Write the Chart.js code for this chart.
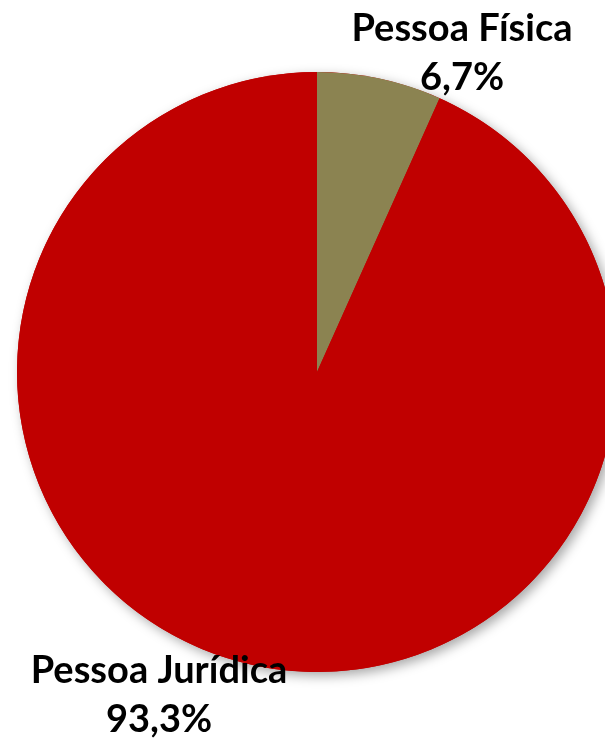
<!DOCTYPE html>
<html>
<head>
<meta charset="utf-8">
<script src="https://cdn.jsdelivr.net/npm/chart.js@4"></script>
<style>
  html, body { margin: 0; padding: 0; background: #fff; overflow: hidden; }
</style>
</head>
<body>
<canvas id="pie" width="640" height="741"></canvas>
<script>
const categories = ['Pessoa Física', 'Pessoa Jurídica'];
const shares = [6.7, 93.3];
const sliceColors = ['#8B8351', '#C00000'];

// where each label block is centred (x, y of first line)
const labelSpots = [{x: 462, y: 29}, {x: 159, y: 671}];

const fmt = v => v.toFixed(1).replace('.', ',') + '%';

const pieShadow = {
    id: 'pieShadow',
    beforeDatasetsDraw(chart) {
        const arc = chart.getDatasetMeta(0).data[0];
        const ctx = chart.ctx;
        ctx.save();
        ctx.shadowColor = 'rgba(0,0,0,0.35)';
        ctx.shadowBlur = 12;
        ctx.shadowOffsetX = 4;
        ctx.shadowOffsetY = 4;
        ctx.fillStyle = '#C00000';
        ctx.beginPath();
        ctx.arc(arc.x, arc.y, arc.outerRadius, 0, Math.PI * 2);
        ctx.fill();
        ctx.restore();
    }
};

const sliceLabels = {
    id: 'sliceLabels',
    afterDatasetsDraw(chart) {
        const ctx = chart.ctx;
        ctx.save();
        ctx.fillStyle = '#000';
        ctx.font = 'bold 38px Lato, "Open Sans", sans-serif';
        ctx.textAlign = 'center';
        ctx.textBaseline = 'middle';
        categories.forEach((c, i) => {
            const p = labelSpots[i];
            ctx.fillText(c, p.x, p.y);
            ctx.fillText(fmt(shares[i]), p.x, p.y + 49);
        });
        ctx.restore();
    }
};

new Chart(document.getElementById('pie'), {
    type: 'pie',
    data: {
        labels: categories,
        datasets: [{
            data: shares,
            backgroundColor: sliceColors,
            borderWidth: 0
        }]
    },
    options: {
        responsive: false,
        animation: false,
        layout: {
            padding: {left: 17, right: 23, top: 72, bottom: 69}
        },
        plugins: {
            legend: {display: false},
            tooltip: {enabled: false}
        }
    },
    plugins: [pieShadow, sliceLabels]
});
</script>
</body>
</html>
